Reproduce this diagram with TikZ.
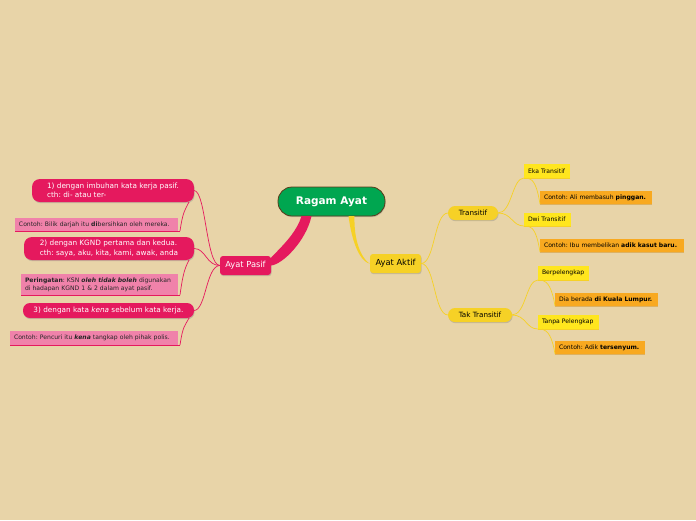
\documentclass[tikz,border=0pt]{standalone}
\usepackage{fontspec}
\setmainfont{DejaVu Sans}
\usetikzlibrary{shadows}
\frenchspacing
\definecolor{bg}{HTML}{E8D4A8}
\definecolor{pinkm}{HTML}{E5195E}
\definecolor{pinkl}{HTML}{F082AA}
\definecolor{yelm}{HTML}{F6D126}
\definecolor{yelb}{HTML}{FFE61E}
\definecolor{orng}{HTML}{F8A920}
\definecolor{grn}{HTML}{00A650}
\definecolor{brn}{HTML}{5B3A1A}
\tikzset{
  shd/.style={drop shadow={opacity=0.35,shadow xshift=0.6pt,shadow yshift=-1.2pt}},
  base/.style={inner sep=0pt,outer sep=0pt,align=left},
  root/.style={base,shd,fill=grn,draw=brn,line width=0.8pt,rounded corners=14pt,text=white,font=\fontsize{10.5}{12}\selectfont\bfseries},
  pmain/.style={base,shd,fill=pinkm,rounded corners=3pt,text=white,font=\fontsize{8.3}{9}\selectfont},
  ymain/.style={base,shd,fill=yelm,rounded corners=3pt,text=black,font=\fontsize{8.3}{9}\selectfont},
  ppill/.style={base,shd,fill=pinkm,rounded corners=8pt,text=white,font=\fontsize{7.3}{9.2}\selectfont},
  pnote/.style={base,inner xsep=4pt,fill=pinkl,text=black!85,font=\fontsize{6.1}{8}\selectfont},
  ypill/.style={base,shd,fill=yelm,rounded corners=7pt,text=black,font=\fontsize{7.2}{8}\selectfont},
  ybox/.style={base,inner xsep=4pt,fill=yelb,text=black,font=\fontsize{6.1}{7}\selectfont},
  obox/.style={base,inner xsep=4pt,fill=orng,text=black,font=\fontsize{6.1}{7}\selectfont},
  pline/.style={draw=pinkm,line width=0.7pt},
  yline/.style={draw=yelm,line width=0.7pt},
}
\begin{document}
\begin{tikzpicture}[x=1pt,y=-1pt]
\fill[bg] (0,0) rectangle (696,520);
\useasboundingbox (0,0) rectangle (696,520);

% main nodes
\node[root,minimum width=107pt,minimum height=29pt] (root) at (331.5,201.5) {Ragam Ayat};
\node[pmain,minimum width=51pt,minimum height=19pt] (pasif) at (245.5,265.5) {Ayat Pasif};
\node[ymain,minimum width=51pt,minimum height=19pt] (aktif) at (395.5,263.5) {Ayat Aktif};

% tapered connectors
\fill[pinkm] ([xshift=-30pt]root.south) .. controls +(-8,28) and +(-16,0) .. (pasif.east)
  .. controls +(12,-1) and +(-5,24) .. ([xshift=-20pt]root.south) -- cycle;
\fill[yelm] ([xshift=17pt]root.south) .. controls +(5,38) and +(-5,0) .. (aktif.west)
  .. controls +(-4,-1) and +(-1,32) .. ([xshift=23pt]root.south) -- cycle;

% left side
\node[ppill,minimum width=162pt,minimum height=23pt] (p1) at (113,190.5) {1) dengan imbuhan kata kerja pasif.\\cth: di- atau ter-};
\node[pnote,text width=155pt,minimum height=13pt] (c1) at (96.5,224.5) {\mbox{Contoh: Bilik darjah itu \textbf{di}bersihkan oleh mereka.}};
\node[ppill,minimum width=170pt,minimum height=23pt] (p2) at (109,248.5) {2) dengan KGND pertama dan kedua.\\cth: saya, aku, kita, kami, awak, anda};
\node[pnote,text width=149pt,minimum height=21pt] (c2) at (99.5,284.5) {\mbox{\textbf{Peringatan}: KSN \textbf{\textit{oleh tidak boleh}} digunakan}\\\mbox{di hadapan KGND 1 \& 2 dalam ayat pasif.}};
\node[ppill,minimum width=171pt,minimum height=15pt,rounded corners=7pt] (p3) at (108.5,310.5) {3) dengan kata \textit{kena} sebelum kata kerja.};
\node[pnote,text width=160pt,minimum height=14pt] (c3) at (94,338) {\mbox{Contoh: Pencuri itu \textbf{\textit{kena}} tangkap oleh pihak polis.}};

\foreach \c in {c1,c2,c3} {\draw[pline] (\c.south west) -- ([xshift=2pt]\c.south east);}

\draw[pline] (pasif.west) .. controls +(-14,0) and +(12,0) .. (p1.east);
\draw[pline] (pasif.west) .. controls +(-14,0) and +(12,0) .. (p2.east);
\draw[pline] (pasif.west) .. controls +(-14,0) and +(12,0) .. (p3.east);
\draw[pline] ([xshift=-5pt]p1.south east) .. controls +(-4,8) and +(3,-20) .. ([xshift=2pt]c1.south east);
\draw[pline] ([xshift=-5pt]p2.south east) .. controls +(-4,8) and +(3,-22) .. ([xshift=2pt]c2.south east);
\draw[pline] ([xshift=-5pt]p3.south east) .. controls +(-4,8) and +(3,-20) .. ([xshift=2pt]c3.south east);

% right side
\node[ypill,minimum width=50pt,minimum height=14pt] (trans) at (473,213) {Transitif};
\node[ypill,minimum width=64pt,minimum height=14pt] (tak) at (480,315) {Tak Transitif};
\node[ybox,text width=38pt,minimum height=14pt] (eka) at (547,171) {\mbox{Eka Transitif}};
\node[obox,text width=104pt,minimum height=13pt] (ec) at (596,197.5) {\mbox{Contoh: Ali membasuh \textbf{pinggan.}}};
\node[ybox,text width=39pt,minimum height=13pt] (dwi) at (547.5,219.5) {\mbox{Dwi Transitif}};
\node[obox,text width=136pt,minimum height=13pt] (dc) at (612,245.5) {\mbox{Contoh: Ibu membelikan \textbf{adik kasut baru.}}};
\node[ybox,text width=43pt,minimum height=14pt] (ber) at (563.5,273) {\mbox{Berpelengkap}};
\node[obox,text width=95pt,minimum height=13pt] (bc) at (606.5,299.5) {\mbox{Dia berada \textbf{di Kuala Lumpur.}}};
\node[ybox,text width=53pt,minimum height=14pt] (tan) at (568.5,322) {\mbox{Tanpa Pelengkap}};
\node[obox,text width=82pt,minimum height=13pt] (tc) at (600,347.5) {\mbox{Contoh: Adik \textbf{tersenyum.}}};

\foreach \c in {eka,dwi,ber,tan} {\draw[yline] (\c.south west) -- (\c.south east);}
\foreach \c in {ec,dc,bc,tc} {\draw[draw=orng!85!black,line width=0.5pt,opacity=0.5] (\c.south west) -- (\c.south east);}

\draw[yline] (aktif.east) .. controls +(14,0) and +(-14,0) .. (trans.west);
\draw[yline] (aktif.east) .. controls +(14,0) and +(-14,0) .. (tak.west);
\draw[yline] (trans.east) .. controls +(14,0) and +(-12,0) .. (eka.south west);
\draw[yline] (trans.east) .. controls +(14,0) and +(-12,0) .. (dwi.south west);
\draw[yline] (tak.east) .. controls +(14,0) and +(-12,0) .. (ber.south west);
\draw[yline] (tak.east) .. controls +(14,0) and +(-12,0) .. (tan.south west);
\draw[yline] ([xshift=4pt]eka.south west) .. controls +(6,2) and +(-3,-18) .. (ec.south west);
\draw[yline] ([xshift=4pt]dwi.south west) .. controls +(6,2) and +(-3,-18) .. (dc.south west);
\draw[yline] ([xshift=4pt]ber.south west) .. controls +(6,2) and +(-3,-18) .. (bc.south west);
\draw[yline] ([xshift=4pt]tan.south west) .. controls +(6,2) and +(-3,-18) .. (tc.south west);
\end{tikzpicture}
\end{document}
